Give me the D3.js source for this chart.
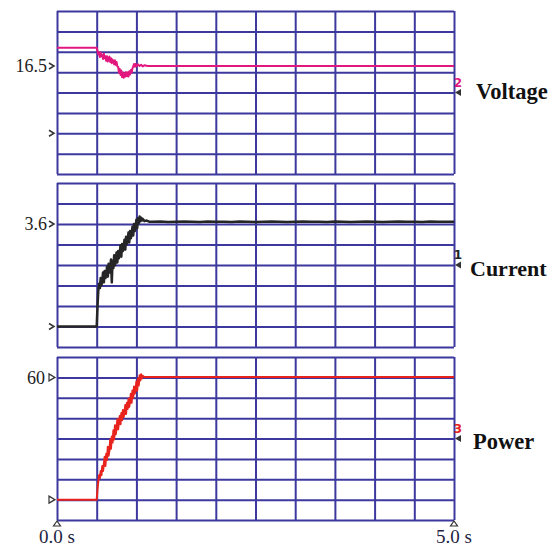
<!DOCTYPE html>
<html>
<head>
<meta charset="utf-8">
<script src="https://cdn.jsdelivr.net/npm/d3@7"></script>
<style>
  body { margin: 0; background: #fff; }
</style>
</head>
<body>
<script>
// Scope traces (time in s)
const voltTime = [0, 0.50, 0.51, 0.52, 0.53, 0.54, 0.55, 0.56, 0.57, 0.58, 0.59, 0.60, 0.61, 0.62, 0.63, 0.64,
  0.65, 0.66, 0.67, 0.68, 0.69, 0.70, 0.71, 0.72, 0.73, 0.74, 0.75, 0.76, 0.77, 0.78, 0.79, 0.80, 0.81, 0.82,
  0.83, 0.84, 0.85, 0.86, 0.87, 0.88, 0.89, 0.90, 0.91, 0.92, 0.93, 0.94, 0.95, 0.96, 0.97, 0.98, 0.99, 1.00,
  1.02, 1.04, 1.06, 1.08, 1.10, 1.14, 1.20, 5.0];
const voltValues = [21.0, 21.0, 20.2, 19.3, 19.9, 18.7, 19.8, 18.9, 19.2, 18.2, 19.5, 18.4, 18.9, 17.8, 18.9, 17.6,
  18.3, 18.8, 17.5, 18.4, 17.2, 18.1, 17.6, 16.9, 17.9, 16.8, 17.5, 16.4, 16.3, 14.9, 15.8, 14.3, 15.4, 13.8,
  14.9, 13.6, 14.7, 13.9, 15.0, 14.0, 14.9, 13.9, 15.2, 14.4, 15.5, 14.9, 15.9, 16.4, 17.0, 16.3, 17.0, 16.4,
  16.9, 16.5, 16.8, 16.4, 16.7, 16.5, 16.5, 16.5];

const currTime = [0, 0.50, 0.51, 0.52, 0.53, 0.54, 0.55, 0.56, 0.57, 0.58, 0.59, 0.60, 0.61, 0.62, 0.63, 0.64,
  0.65, 0.66, 0.67, 0.68, 0.69, 0.70, 0.71, 0.72, 0.73, 0.74, 0.75, 0.76, 0.77, 0.78, 0.79, 0.80, 0.81, 0.82,
  0.83, 0.84, 0.85, 0.86, 0.87, 0.88, 0.89, 0.90, 0.91, 0.92, 0.93, 0.94, 0.95, 0.96, 0.97, 0.98, 0.99, 1.00,
  1.01, 1.02, 1.03, 1.04, 1.05, 1.06, 1.07, 1.08, 1.10, 1.13, 1.16,
  1.2, 1.3, 1.4, 1.5, 1.6, 1.7, 1.8, 1.9, 2.0, 2.1, 2.2, 2.3, 2.4, 2.5, 2.6, 2.7, 2.8, 2.9, 3.0,
  3.1, 3.2, 3.3, 3.4, 3.5, 3.6, 3.7, 3.8, 3.9, 4.0, 4.1, 4.2, 4.3, 4.4, 4.5, 4.6, 4.7, 4.8, 4.9, 5.0];
const currValues = [0, 0, 0.7, 1.25, 1.5, 1.35, 1.7, 1.45, 1.62, 1.9, 1.55, 1.95, 1.7, 1.82, 2.1, 1.75,
  2.2, 1.9, 2.05, 2.35, 1.55, 2.3, 2.05, 2.5, 2.15, 2.35, 2.6, 2.25, 2.65, 2.4, 2.55, 2.85, 2.45, 2.9,
  2.65, 2.8, 3.05, 2.7, 3.15, 2.9, 3.0, 3.3, 2.95, 3.35, 3.1, 3.25, 3.5, 3.2, 3.6, 3.35, 3.5, 3.75,
  3.45, 3.8, 3.62, 3.86, 3.7, 3.82, 3.72, 3.78, 3.7, 3.72, 3.68,
  3.68, 3.69, 3.67, 3.68, 3.69, 3.68, 3.67, 3.69, 3.68, 3.68, 3.67, 3.69, 3.68, 3.67, 3.68, 3.69, 3.68, 3.67, 3.68,
  3.69, 3.68, 3.68, 3.67, 3.69, 3.68, 3.67, 3.68, 3.69, 3.68, 3.67, 3.68, 3.69, 3.68, 3.68, 3.67, 3.69, 3.68, 3.68, 3.68];

const powTime = [0, 0.50, 0.51, 0.52, 0.53, 0.54, 0.55, 0.56, 0.57, 0.58, 0.59, 0.60, 0.61, 0.62, 0.63, 0.64,
  0.65, 0.66, 0.67, 0.68, 0.69, 0.70, 0.71, 0.72, 0.73, 0.74, 0.75, 0.76, 0.77, 0.78, 0.79, 0.80, 0.81, 0.82,
  0.83, 0.84, 0.85, 0.86, 0.87, 0.88, 0.89, 0.90, 0.91, 0.92, 0.93, 0.94, 0.95, 0.96, 0.97, 0.98, 0.99, 1.00,
  1.01, 1.02, 1.03, 1.04, 1.05, 1.06, 1.07, 1.08, 1.10, 5.0];
const powValues = [0, 0, 5, 9, 12, 10.5, 14, 12, 16.5, 14, 17.5, 21, 16.5, 22.5, 19.5, 26,
  21.5, 24, 29.5, 25, 31, 28, 34, 29.5, 36.5, 32, 35, 39.5, 34.5, 38, 41, 37, 42.5, 39,
  44, 40.5, 43, 46.5, 42, 47.5, 44.5, 49.5, 45.5, 48, 52, 47.5, 53.5, 50, 55.5, 52, 54, 58,
  53.5, 59.5, 56, 61, 58.5, 61.5, 59.5, 60.8, 60.2, 60.2];

// left-hand level markers per channel
const voltMarks = [16.5, 0];
const currMarks = [3.6, 0];
const powMarks = [60, 0];

const timeTicks = [0, 5];
const timeLabels = ["0.0 s", "5.0 s"];

const width = 554;
const height = 547;
const gridColor = "#3c389e";
const serif = "'Liberation Serif', 'Times New Roman', serif";

const x = d3.scaleLinear().domain([0, 5]).range([57, 454]);

const panels = [
  { name: "Voltage", num: "2", time: voltTime, values: voltValues, marks: voltMarks,
    domain: [-10, 30], step: 5, top: 11, bottom: 174, color: "#e2187f", numColor: "#e2187f",
    lw: 2, labelX: 476, labelDy: 6, labelSize: 22.5, marker: "chevron" },
  { name: "Current", num: "1", time: currTime, values: currValues, marks: currMarks,
    domain: [-0.72, 5.04], step: 0.72, top: 183, bottom: 347, color: "#262626", numColor: "#222",
    lw: 2.5, labelX: 470, labelDy: 11, labelSize: 22, marker: "chevron" },
  { name: "Power", num: "3", time: powTime, values: powValues, marks: powMarks,
    domain: [-10, 70], step: 10, top: 357, bottom: 520, color: "#e8231d", numColor: "#e8231d",
    lw: 2, labelX: 473, labelDy: 10, labelSize: 22.5, marker: "open" }
];

const svg = d3.select("body").append("svg")
    .attr("width", width)
    .attr("height", height)
    .attr("viewBox", [0, 0, width, height]);

panels.forEach(p => {
  const y = d3.scaleLinear().domain(p.domain).range([p.bottom, p.top]);
  const g = svg.append("g");
  const h = p.bottom - p.top;
  const yTicks = d3.range(0, 9).map(i => p.domain[0] + i * p.step);

  // vertical grid
  g.append("g")
      .attr("transform", `translate(0,${p.bottom})`)
      .call(d3.axisBottom(x).tickValues(d3.range(0, 11).map(i => i * 0.5)).tickSize(-h).tickFormat(""))
      .call(g => g.select(".domain").remove())
      .call(g => g.selectAll(".tick line").attr("stroke", gridColor).attr("stroke-width", 2));

  // horizontal grid
  g.append("g")
      .attr("transform", `translate(${x(0)},0)`)
      .call(d3.axisRight(y).tickValues(yTicks).tickSize(x(5) - x(0)).tickFormat(""))
      .call(g => g.select(".domain").remove())
      .call(g => g.selectAll(".tick line").attr("stroke", gridColor).attr("stroke-width", 2));

  const line = d3.line()
      .x(d => x(d[0]))
      .y(d => y(d[1]));

  g.append("path")
      .datum(d3.zip(p.time, p.values))
      .attr("fill", "none")
      .attr("stroke", p.color)
      .attr("stroke-width", p.lw)
      .attr("stroke-linejoin", "round")
      .attr("d", line);

  // left level markers
  p.marks.forEach(m => {
    const my = y(m);
    if (p.marker === "open") {
      g.append("path")
          .attr("d", `M${x(0) - 8},${my - 3.5}L${x(0) - 2},${my}L${x(0) - 8},${my + 3.5}Z`)
          .attr("fill", "#fff")
          .attr("stroke", "#333")
          .attr("stroke-width", 1.2);
    } else {
      g.append("path")
          .attr("d", `M${x(0) - 8},${my - 3}L${x(0) - 3},${my}L${x(0) - 8},${my + 3}`)
          .attr("fill", "none")
          .attr("stroke", "#333")
          .attr("stroke-width", 1.5);
    }
    if (m !== 0) {
      g.append("text")
          .attr("x", x(0) - (p.marker === "open" ? 12 : 10))
          .attr("y", my)
          .attr("dy", "0.35em")
          .attr("text-anchor", "end")
          .attr("font-family", serif)
          .attr("font-size", 18)
          .attr("fill", "#222")
          .text(m);
    }
  });

  // right channel marker, number and name
  const ry = y((p.domain[0] + p.domain[1]) / 2);
  g.append("path")
      .attr("d", `M${x(5) + 1},${ry}L${x(5) + 7},${ry - 3.5}L${x(5) + 7},${ry + 3.5}Z`)
      .attr("fill", "#333");
  g.append("text")
      .attr("x", x(5) + 4)
      .attr("y", ry - 6)
      .attr("text-anchor", "middle")
      .attr("font-family", "'DejaVu Sans', sans-serif")
      .attr("font-weight", "bold")
      .attr("font-size", 12)
      .attr("fill", p.numColor)
      .text(p.num);
  g.append("text")
      .attr("x", p.labelX)
      .attr("y", ry + p.labelDy)
      .attr("font-family", serif)
      .attr("font-weight", "bold")
      .attr("font-size", p.labelSize)
      .attr("fill", "#111")
      .text(p.name);
});

// time axis ticks
const axis = svg.append("g")
  .selectAll("g")
  .data(timeTicks)
  .join("g")
    .attr("transform", d => `translate(${x(d)},520)`);

axis.append("path")
    .attr("d", "M0,1L-3.5,6L3.5,6Z")
    .attr("fill", "#fff")
    .attr("stroke", "#333")
    .attr("stroke-width", 1.2);

axis.append("text")
    .attr("y", 23)
    .attr("text-anchor", "middle")
    .attr("font-family", serif)
    .attr("font-size", 19)
    .attr("fill", "#1d2442")
    .text((d, i) => timeLabels[i]);
</script>
</body>
</html>
